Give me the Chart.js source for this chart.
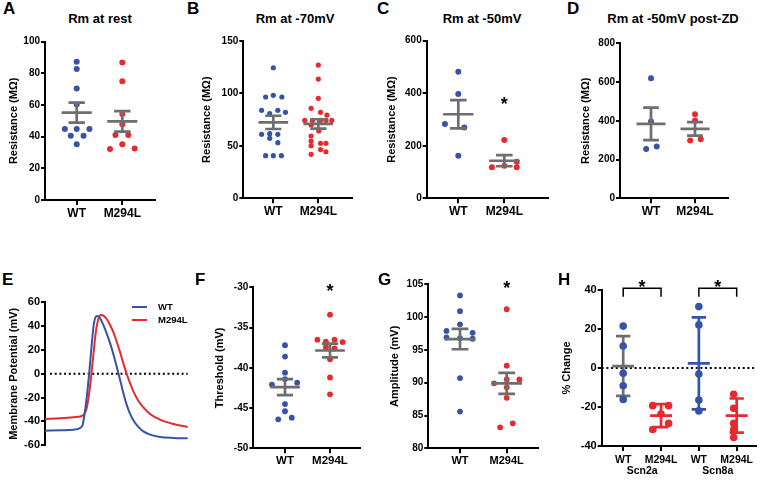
<!DOCTYPE html>
<html>
<head>
<meta charset="utf-8">
<script src="https://cdn.jsdelivr.net/npm/chart.js@4.4.1/dist/chart.umd.min.js"></script>
<style>
  body { margin:0; background:#fff; }
  #fig { position:relative; width:760px; height:480px; overflow:hidden;
         font-family:'Liberation Sans', Arial, sans-serif; font-weight:bold; color:#000; }
  #fig canvas { position:absolute; }
  .lbl { position:absolute; white-space:nowrap; line-height:1; }
  .letter { font-size:17px; }
  .title { font-size:13px; transform:translate(-50%,-50%); }
  .leg { font-size:9.5px; transform:translateY(-50%); }
  .legline { position:absolute; width:15px; height:2px; }
</style>
</head>
<body>
<div id="fig">
  <canvas id="cA"></canvas>
  <canvas id="cB"></canvas>
  <canvas id="cC"></canvas>
  <canvas id="cD"></canvas>
  <canvas id="cE"></canvas>
  <canvas id="cF"></canvas>
  <canvas id="cG"></canvas>
  <canvas id="cH"></canvas>

  <div class="lbl letter" style="left:3px;top:0px">A</div>
  <div class="lbl letter" style="left:187px;top:0px">B</div>
  <div class="lbl letter" style="left:377px;top:0px">C</div>
  <div class="lbl letter" style="left:567px;top:0px">D</div>
  <div class="lbl letter" style="left:2px;top:271px">E</div>
  <div class="lbl letter" style="left:195px;top:271px">F</div>
  <div class="lbl letter" style="left:378px;top:271px">G</div>
  <div class="lbl letter" style="left:558px;top:271px">H</div>

  <div class="lbl title" style="left:100px;top:18px">Rm at rest</div>
  <div class="lbl title" style="left:295px;top:18px">Rm at -70mV</div>
  <div class="lbl title" style="left:482px;top:18px">Rm at -50mV</div>
  <div class="lbl title" style="left:673px;top:18px">Rm at -50mV post-ZD</div>

  <div class="legline" style="left:132px;top:306px;background:#3554a5"></div>
  <div class="lbl leg" style="left:158px;top:307px">WT</div>
  <div class="legline" style="left:132px;top:319px;background:#e62a2e"></div>
  <div class="lbl leg" style="left:158px;top:320px">M294L</div>
</div>
<script>
// colours
const BLUE = '#3554a5';
const RED  = '#e62a2e';
const GRAY = '#6e6e6e';

// categories / tick labels
const cats2 = ['WT', 'M294L'];
const catsH = ['WT', 'M294L', 'WT', 'M294L'];
const groupsH = ['Scn2a', 'Scn8a'];

// A - Rm at rest
const restWT      = [87.4, 82.7, 70.5, 60.4, 44.8, 44.8, 44.8, 40.6, 40.6, 35.2];
const restWTdx    = [0, 0, 0, 0, -0.26, 0, 0.28, -0.13, 0.15, 0];
const restMut     = [86.9, 75, 54.3, 47.8, 41, 41, 35.2, 32.2, 32.6];
const restMutdx   = [0, 0, 0, 0, -0.15, 0.13, 0, -0.27, 0.27];
const restMean    = [55.2, 49.7];
const restErr     = [6.3, 6.5];

// B - Rm at -70mV
const v70WT       = [124.5, 98.2, 96.6, 96.6, 83.9, 83.9, 82, 80.7, 61.6, 61, 61, 57.2, 53, 40.6, 40.6, 40.6];
const v70WTdx     = [0, 0, -0.17, 0.19, -0.26, 0.1, 0.27, -0.08, -0.08, -0.26, 0.1, -0.08, 0.1, -0.17, 0, 0.18];
const v70Mut      = [127, 113.7, 95.3, 85.8, 82, 79.4, 74.3, 74.3, 74.3, 74.3, 74.3, 69.9, 64.2, 59.4, 54.6, 52.4, 52.4, 50.2, 46.5, 44.4, 41.9];
const v70Mutdx    = [0, 0, 0, -0.16, 0.05, 0.19, -0.3, -0.13, 0.05, 0.17, 0.3, -0.16, 0.01, -0.16, -0.16, 0.05, 0.17, -0.16, 0.05, 0.17, -0.16];
const v70Mean     = [72.4, 70.9];
const v70Err      = [6.3, 4.5];

// C - Rm at -50mV
const v50WT       = [482, 397, 283, 270, 162];
const v50WTdx     = [0, 0, -0.29, 0.13, 0];
const v50Mut      = [222, 139.5, 118, 124, 118];
const v50Mutdx    = [0, 0.27, -0.27, 0, 0.27];
const v50Mean     = [320, 143];
const v50Err      = [54, 21];

// D - Rm at -50mV post-ZD
const zdWT        = [619, 396, 255, 267];
const zdWTdx      = [0, 0, -0.11, 0.13];
const zdMut       = [434, 401, 298, 305];
const zdMutdx     = [0, 0, -0.11, 0.13];
const zdMean      = [384, 358];
const zdErr       = [84, 35];

// E - action potential traces (time in ms, potential in mV)
const apWTt  = [0, 1.05, 1.99, 2.45, 2.64, 2.8, 2.97, 3.11, 3.27, 3.43, 3.57, 3.69, 3.86, 4.09, 4.32, 4.56, 4.79, 5.02, 5.26, 5.49, 5.72, 5.96, 6.19, 6.54, 6.89, 7.36, 8.06, 9.0, 10];
const apWTv  = [-47.7, -47.4, -46.9, -45.5, -42.7, -31.5, -14.8, 2, 24.3, 42.4, 48, 48.6, 46.6, 41, 34, 25.7, 16.5, 6.2, -5, -16.2, -25.9, -33.5, -39, -44.6, -48.3, -51, -53, -53.8, -54.1];
const apMutT = [0, 1.05, 1.99, 2.57, 2.76, 2.92, 3.08, 3.22, 3.39, 3.55, 3.74, 3.93, 4.09, 4.32, 4.56, 4.79, 5.02, 5.26, 5.49, 5.72, 5.96, 6.19, 6.54, 6.89, 7.36, 8.06, 9.0, 10];
const apMutV = [-37.9, -37.4, -36.5, -35.4, -33.7, -28.7, -17.6, -3.6, 15.9, 34, 46, 49.4, 48.8, 46, 41, 34.9, 27.1, 18.2, 8.9, 0, -7.8, -14.8, -22.6, -28.2, -33.7, -38.5, -42.1, -44.6];

// F - threshold
const thrWT       = [-37.2, -38.6, -40.6, -41.4, -42.1, -41.85, -44.5, -45.4, -46.4, -46.2];
const thrWTdx     = [0, 0, 0, 0, -0.29, 0.27, 0, 0, -0.15, 0.15];
const thrMut      = [-33.4, -36.5, -36.75, -36.5, -36.8, -37.45, -37.6, -38.95, -41.2, -43.3];
const thrMutdx    = [0, -0.28, -0.09, 0.1, 0.28, -0.09, 0.1, 0, 0, 0];
const thrMean     = [-42.4, -37.85];
const thrErr      = [1.0, 0.85];

// G - amplitude
const ampWT       = [103.3, 100.9, 98.9, 97.9, 97.6, 96.9, 96.8, 96.7, 90.7, 85.6];
const ampWTdx     = [0, 0, 0, -0.29, 0.27, -0.29, 0, 0.27, 0, 0];
const ampMut      = [101.2, 92.6, 89.9, 90.5, 90.5, 89.3, 87.7, 83.2, 83.8];
const ampMutdx    = [0, 0, -0.27, 0.27, 0, 0, 0, -0.14, 0.13];
const ampMean     = [96.65, 89.9];
const ampErr      = [1.55, 1.6];

// H - % change
const scn2aWT     = [21.5, 11.3, -2.7, -9.1, -16.1];
const scn2aWTdx   = [0, 0, 0, 0, 0];
const scn2aMut    = [-19.3, -19.3, -23.6, -28.4, -31.5];
const scn2aMutdx  = [-0.22, 0.2, 0, 0.2, -0.22];
const scn8aWT     = [31.5, 22.1, -3.1, -16.4, -22];
const scn8aWTdx   = [0, 0, 0, 0, 0];
const scn8aMut    = [-13.5, -20.7, -28.4, -31.5, -35.6];
const scn8aMutdx  = [-0.08, -0.08, -0.08, -0.08, -0.08];
const hMean       = [1.0, -24.4, 2.4, -24.4];
const hErr        = [15.3, 5.9, 23.6, 8.75];

// panel geometry (page pixels)
const geoA = {ax:45,    yTop:41.7,  yBot:200,   rx:155,   titleX:13.3,  padTop:12, below:30, c0:76.7,  c1:122.3};
const geoB = {ax:243.3, yTop:41,    yBot:198.3, rx:351.7, titleX:206.7, padTop:12, below:30, c0:273.3, c1:318.3};
const geoC = {ax:426.7, yTop:40.7,  yBot:198.3, rx:548.3, titleX:391.7, padTop:12, below:30, c0:458.3, c1:504.3};
const geoD = {ax:620,   yTop:43.3,  yBot:198.3, rx:728.3, titleX:585.7, padTop:12, below:30, c0:651,   c1:695};
const geoE = {ax:45,    yTop:302.3, yBot:445.3, rx:187.7, titleX:13.3,  padTop:12, below:10};
const geoF = {ax:253.3, yTop:287.3, yBot:448.3, rx:360,   titleX:220,   padTop:16, below:30, c0:285,   c1:330};
const geoG = {ax:428.3, yTop:284.3, yBot:448.3, rx:538.3, titleX:394.5, padTop:16, below:30, c0:460,   c1:506.7};
const geoH = {ax:601.7, yTop:290,   yBot:446,   rx:756.7, titleX:566.5, padTop:22, below:34, c0:623.3, c1:737.3};

Chart.defaults.font.family = "'Liberation Sans', Arial, sans-serif";
Chart.defaults.font.weight = 'bold';
Chart.defaults.color = '#000';

// plugin: mean/error bars, asterisks, brackets, zero line, group labels
const drawBars = (chart, o) => {
    if (!o.means) return;
    const {ctx, scales:{x, y}} = chart;
    const unit = x.getPixelForValue(1) - x.getPixelForValue(0);
    ctx.save();
    ctx.lineWidth = 2.7;
    o.means.forEach((m, i) => {
        const cx = x.getPixelForValue(o.barPos[i]);
        const my = y.getPixelForValue(m);
        const hi = y.getPixelForValue(m + o.errs[i]);
        const lo = y.getPixelForValue(m - o.errs[i]);
        ctx.strokeStyle = o.barColors[i];
        ctx.beginPath();
        ctx.moveTo(cx - o.meanHalf * unit, my); ctx.lineTo(cx + o.meanHalf * unit, my);
        ctx.moveTo(cx, hi); ctx.lineTo(cx, lo);
        ctx.moveTo(cx - o.capHalf * unit, hi); ctx.lineTo(cx + o.capHalf * unit, hi);
        ctx.moveTo(cx - o.capHalf * unit, lo); ctx.lineTo(cx + o.capHalf * unit, lo);
        ctx.stroke();
    });
    ctx.restore();
};

const extras = {
    id: 'extras',
    beforeDatasetsDraw(chart, args, o) {
        const {ctx, chartArea, scales:{y}} = chart;
        if (o.zero !== undefined) {
            const zy = y.getPixelForValue(0);
            ctx.save();
            ctx.strokeStyle = '#000';
            ctx.lineWidth = 2;
            ctx.setLineDash([2, 2.7]);
            ctx.beginPath();
            ctx.moveTo(chartArea.left + o.zero, zy);
            ctx.lineTo(chartArea.right, zy);
            ctx.stroke();
            ctx.restore();
        }
        if (o.barsFirst) drawBars(chart, o);
    },
    afterDatasetsDraw(chart, args, o) {
        const {ctx, chartArea, scales:{x, y}} = chart;
        if (!o.barsFirst) drawBars(chart, o);
        ctx.save();
        (o.brackets || []).forEach(b => {
            ctx.strokeStyle = '#000';
            ctx.lineWidth = 1.5;
            ctx.beginPath();
            ctx.moveTo(x.getPixelForValue(b.x1), y.getPixelForValue(b.drop));
            ctx.lineTo(x.getPixelForValue(b.x1), y.getPixelForValue(b.y));
            ctx.lineTo(x.getPixelForValue(b.x2), y.getPixelForValue(b.y));
            ctx.lineTo(x.getPixelForValue(b.x2), y.getPixelForValue(b.drop));
            ctx.stroke();
        });
        const ss = o.starSize || 18;
        ctx.fillStyle = '#000';
        ctx.font = "bold " + ss + "px 'Liberation Sans', Arial, sans-serif";
        ctx.textAlign = 'center';
        ctx.textBaseline = 'alphabetic';
        (o.stars || []).forEach(s => {
            ctx.fillText('*', x.getPixelForValue(s.x), y.getPixelForValue(s.y) + 0.58 * ss);
        });
        if (o.groupLabels) {
            ctx.font = "bold " + o.groupSize + "px 'Liberation Sans', Arial, sans-serif";
            ctx.textBaseline = 'middle';
            o.groupLabels.forEach((t, i) => {
                ctx.fillText(t, x.getPixelForValue(o.groupPos[i]), chartArea.bottom + o.groupY);
            });
        }
        ctx.restore();
    }
};

// canvas placement so the chart area lands where the reference has it
const setup = (id, g) => {
    const cv = document.getElementById(id);
    const left = Math.round(g.titleX - 6.6);
    const top = Math.round(g.yTop - g.padTop);
    const right = Math.min(760, Math.round(g.rx + 6));
    const bottom = Math.min(480, Math.round(g.yBot + g.below));
    cv.width = right - left;
    cv.height = bottom - top;
    cv.style.left = left + 'px';
    cv.style.top = top + 'px';
    cv.style.width = (right - left) + 'px';
    cv.style.height = (bottom - top) + 'px';
    return {cv, wy: g.ax - left, padTop: g.yTop - top, padRight: right - g.rx, xh: bottom - g.yBot};
};

const xRange = (g, last) => {
    const unit = (g.c1 - g.c0) / last;
    return {min: -(g.c0 - g.ax) / unit, max: last + (g.rx - g.c1) / unit};
};

const yAxis = (min, max, step, title, size, wy) => ({
    min, max,
    ticks: {stepSize: step, font: {size, weight: 'bold'}, color: '#000', padding: 1},
    grid: {drawOnChartArea: false, drawTicks: true, tickLength: 4, color: '#000', lineWidth: 2},
    border: {display: true, color: '#000', width: 2},
    title: {display: true, text: title, font: {size: 11, weight: 'bold'}, color: '#000', padding: 0},
    afterFit(s) { s.width = wy; s.paddingTop = 0; s.paddingBottom = 0; }
});

const xAxis = (min, max, pos, cats, size, xh, pad) => ({
    type: 'linear', min, max,
    afterBuildTicks(s) { s.ticks = pos.map(v => ({value: v})); },
    ticks: {callback: (v, i) => cats[i], font: {size, weight: 'bold'}, color: '#000',
            padding: pad, autoSkip: false, maxRotation: 0},
    grid: {drawOnChartArea: false, drawTicks: true, tickLength: 5, color: '#000', lineWidth: 2},
    border: {display: true, color: '#000', width: 2},
    afterFit(s) { s.height = xh; s.paddingLeft = 0; s.paddingRight = 0; }
});

const dotChart = (id, g, o) => {
    const s = setup(id, g);
    const r = xRange(g, o.pos[o.pos.length - 1]);
    const datasets = o.groups.map(gr => ({
        data: gr.vals.map((v, i) => ({x: gr.pos + gr.dx[i], y: v})),
        backgroundColor: gr.color,
        borderWidth: 0,
        pointRadius: o.radius,
        clip: false
    }));
    return new Chart(s.cv, {
        type: 'scatter',
        data: {datasets},
        options: {
            responsive: false, animation: false, events: [],
            layout: {padding: {top: s.padTop, right: s.padRight, bottom: 0, left: 0}},
            plugins: {legend: {display: false}, tooltip: {enabled: false}, extras: o.extras},
            scales: {
                x: xAxis(r.min, r.max, o.pos, o.cats, o.xFont, s.xh, o.xPad || 1),
                y: yAxis(o.yMin, o.yMax, o.yStep, o.yTitle, o.yFont, s.wy)
            }
        },
        plugins: [extras]
    });
};

const twoBars = (means, errs, stars) => ({
    means, errs, barPos: [0, 1], barColors: [GRAY, GRAY], meanHalf: 0.33, capHalf: 0.18,
    stars: stars || [], starSize: 18
});

dotChart('cA', geoA, {
    cats: cats2, pos: [0, 1], radius: 3, xFont: 12, yFont: 10,
    yMin: 0, yMax: 100, yStep: 20, yTitle: 'Resistance (MΩ)',
    groups: [{vals: restWT, dx: restWTdx, pos: 0, color: BLUE}, {vals: restMut, dx: restMutdx, pos: 1, color: RED}],
    extras: twoBars(restMean, restErr)
});

dotChart('cB', geoB, {
    cats: cats2, pos: [0, 1], radius: 2.6, xFont: 12, yFont: 10,
    yMin: 0, yMax: 150, yStep: 50, yTitle: 'Resistance (MΩ)',
    groups: [{vals: v70WT, dx: v70WTdx, pos: 0, color: BLUE}, {vals: v70Mut, dx: v70Mutdx, pos: 1, color: RED}],
    extras: twoBars(v70Mean, v70Err)
});

dotChart('cC', geoC, {
    cats: cats2, pos: [0, 1], radius: 3, xFont: 12, yFont: 10,
    yMin: 0, yMax: 600, yStep: 200, yTitle: 'Resistance (MΩ)',
    groups: [{vals: v50WT, dx: v50WTdx, pos: 0, color: BLUE}, {vals: v50Mut, dx: v50Mutdx, pos: 1, color: RED}],
    extras: twoBars(v50Mean, v50Err, [{x: 1, y: 376}])
});

dotChart('cD', geoD, {
    cats: cats2, pos: [0, 1], radius: 3, xFont: 12, yFont: 10,
    yMin: 0, yMax: 800, yStep: 200, yTitle: 'Resistance (MΩ)',
    groups: [{vals: zdWT, dx: zdWTdx, pos: 0, color: BLUE}, {vals: zdMut, dx: zdMutdx, pos: 1, color: RED}],
    extras: twoBars(zdMean, zdErr)
});

dotChart('cF', geoF, {
    cats: cats2, pos: [0, 1], radius: 2.9, xFont: 11.5, yFont: 10,
    yMin: -50, yMax: -30, yStep: 5, yTitle: 'Threshold (mV)',
    groups: [{vals: thrWT, dx: thrWTdx, pos: 0, color: BLUE}, {vals: thrMut, dx: thrMutdx, pos: 1, color: RED}],
    extras: twoBars(thrMean, thrErr, [{x: 1, y: -29.95}])
});

dotChart('cG', geoG, {
    cats: cats2, pos: [0, 1], radius: 2.9, xFont: 11, yFont: 10,
    yMin: 80, yMax: 105, yStep: 5, yTitle: 'Amplitude (mV)',
    groups: [{vals: ampWT, dx: ampWTdx, pos: 0, color: BLUE}, {vals: ampMut, dx: ampMutdx, pos: 1, color: RED}],
    extras: twoBars(ampMean, ampErr, [{x: 1, y: 105.05}])
});

dotChart('cH', geoH, {
    cats: catsH, pos: [0, 1, 2, 3], radius: 3.8, xFont: 10.5, yFont: 11, xPad: 3,
    yMin: -40, yMax: 40, yStep: 20, yTitle: '% Change',
    groups: [
        {vals: scn2aWT, dx: scn2aWTdx, pos: 0, color: BLUE},
        {vals: scn2aMut, dx: scn2aMutdx, pos: 1, color: RED},
        {vals: scn8aWT, dx: scn8aWTdx, pos: 2, color: BLUE},
        {vals: scn8aMut, dx: scn8aMutdx, pos: 3, color: RED}
    ],
    extras: {
        means: hMean, errs: hErr, barPos: [0, 1, 2, 3], barColors: [GRAY, RED, BLUE, RED],
        meanHalf: 0.29, capHalf: 0.19, barsFirst: true, zero: 0,
        brackets: [{x1: 0, x2: 1, y: 40.85, drop: 36.6}, {x1: 2, x2: 3, y: 40.85, drop: 36.6}],
        stars: [{x: 0.5, y: 44}, {x: 2.5, y: 44}], starSize: 18,
        groupLabels: groupsH, groupPos: [0.5, 2.5], groupY: 25.5, groupSize: 10.5
    }
});

// E - action potential traces
const sE = setup('cE', geoE);
new Chart(sE.cv, {
    type: 'line',
    data: {
        datasets: [
            {label: 'WT', data: apWTt.map((t, i) => ({x: t, y: apWTv[i]})),
             borderColor: BLUE, borderWidth: 2, pointRadius: 0, cubicInterpolationMode: 'monotone', clip: false},
            {label: 'M294L', data: apMutT.map((t, i) => ({x: t, y: apMutV[i]})),
             borderColor: RED, borderWidth: 2, pointRadius: 0, cubicInterpolationMode: 'monotone', clip: false}
        ]
    },
    options: {
        responsive: false, animation: false, events: [],
        layout: {padding: {top: sE.padTop, right: sE.padRight, bottom: sE.xh, left: 0}},
        plugins: {legend: {display: false}, tooltip: {enabled: false}, extras: {zero: 5}},
        scales: {
            x: {type: 'linear', display: false, min: 0, max: 10},
            y: yAxis(-60, 60, 20, 'Membrane Potential (mV)', 11, sE.wy)
        }
    },
    plugins: [extras]
});
</script>
</body>
</html>
